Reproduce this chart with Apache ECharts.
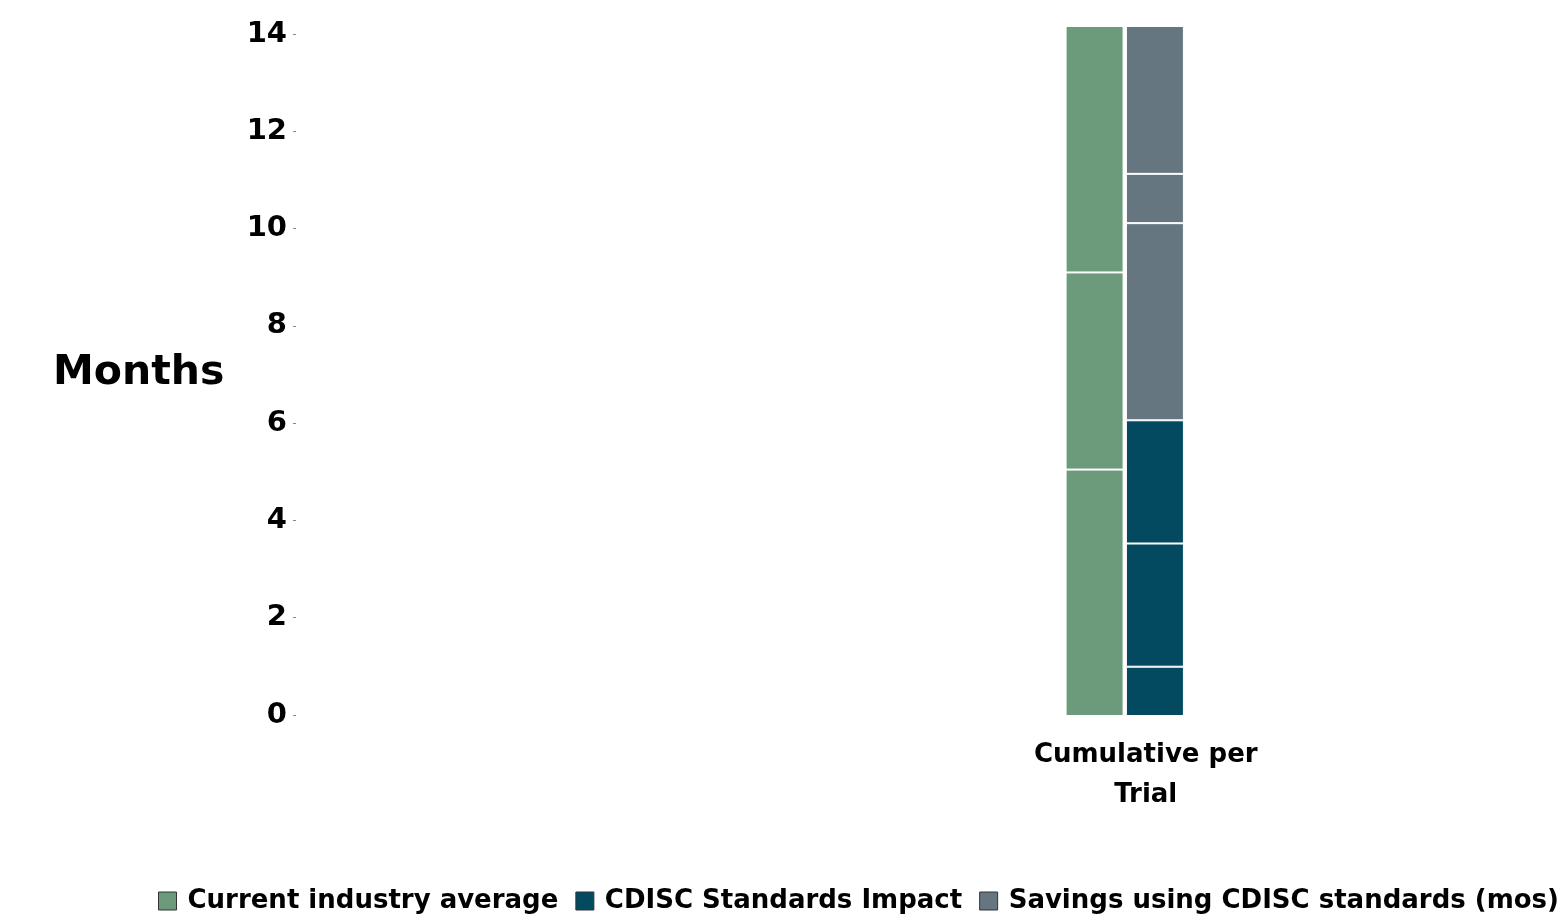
<!DOCTYPE html>
<html>
<head>
<meta charset="utf-8">
<script src="https://cdn.jsdelivr.net/npm/echarts@6/dist/echarts.min.js"></script>
<style>
html,body{margin:0;padding:0;background:#fff;}
#chart{width:1563px;height:920px;}
</style>
</head>
<body>
<div id="chart"></div>
<script>
// ---- data ----
var categories = ["", "Cumulative per\nTrial"];
var yTicks = [0, 2, 4, 6, 8, 10, 12, 14];
var seriesNames = ["Current industry average", "CDISC Standards Impact", "Savings using CDISC standards (mos)"];
var currentAvgSegments = [5, 4, 5];        // stacked segments, bottom to top
var cdiscImpactSegments = [1, 2.5, 2.5];   // stacked segments, bottom to top
var savingsSegments = [4, 1, 3];           // stacked on top of CDISC impact

var colors = { "Current industry average": "#6b9b7a", "CDISC Standards Impact": "#03495f", "Savings using CDISC standards (mos)": "#667680" };

var FONT = "DejaVu Sans";

function seg(name, stack, v) {
  return {
    name: name, type: 'bar', stack: stack,
    xAxisIndex: 0, yAxisIndex: 0,
    barWidth: 58, barGap: '4%',
    itemStyle: { color: colors[name], borderColor: '#ffffff', borderWidth: 1 },
    emphasis: { disabled: true },
    data: categories.map(function (c, i) { return i === 1 ? v : null; })
  };
}

var series = [];
currentAvgSegments.forEach(function (v) { series.push(seg(seriesNames[0], 'a', v)); });
cdiscImpactSegments.forEach(function (v) { series.push(seg(seriesNames[1], 'b', v)); });
savingsSegments.forEach(function (v) { series.push(seg(seriesNames[2], 'b', v)); });

var chart = echarts.init(document.getElementById('chart'), null, { renderer: 'canvas' });
chart.setOption({
  animation: false,
  backgroundColor: '#ffffff',
  title: {
    text: 'Months', left: 48, top: 348,
    textStyle: { fontFamily: FONT, fontWeight: 'bold', fontSize: 41, color: '#000' }
  },
  legend: {
    data: seriesNames,
    left: 158, top: 888, padding: 0,
    icon: 'rect', itemWidth: 18, itemHeight: 18, itemGap: 17,
    itemStyle: { borderColor: '#333', borderWidth: 1 },
    textStyle: { fontFamily: FONT, fontWeight: 'bold', fontSize: 26, color: '#000', padding: [0, 0, 0, 6] },
    selectedMode: false
  },
  grid: [
    { left: 296, right: 162, top: 26, bottom: 204, containLabel: false },
    { left: 296, right: 162, top: 34, bottom: 205, containLabel: false }
  ],
  xAxis: [
    {
      type: 'category', gridIndex: 0, data: categories,
      axisLine: { show: false }, axisTick: { show: false },
      axisLabel: {
        interval: 0, margin: 19, color: '#000',
        fontFamily: FONT, fontWeight: 'bold', fontSize: 26, lineHeight: 40,
        align: 'center', padding: [0, 0, 0, 42]
      }
    },
    { type: 'category', gridIndex: 1, data: categories, show: false }
  ],
  yAxis: [
    { type: 'value', gridIndex: 0, min: 0, max: 14, interval: 2, show: false },
    {
      type: 'value', gridIndex: 1, min: yTicks[0], max: yTicks[yTicks.length - 1], interval: 2,
      axisLine: { show: false },
      axisTick: { show: true, length: 3, lineStyle: { color: '#888', width: 1 } },
      splitLine: { show: false },
      axisLabel: { margin: 9, color: '#000', fontFamily: FONT, fontWeight: 'bold', fontSize: 29 }
    }
  ],
  series: series
});
</script>
</body>
</html>
